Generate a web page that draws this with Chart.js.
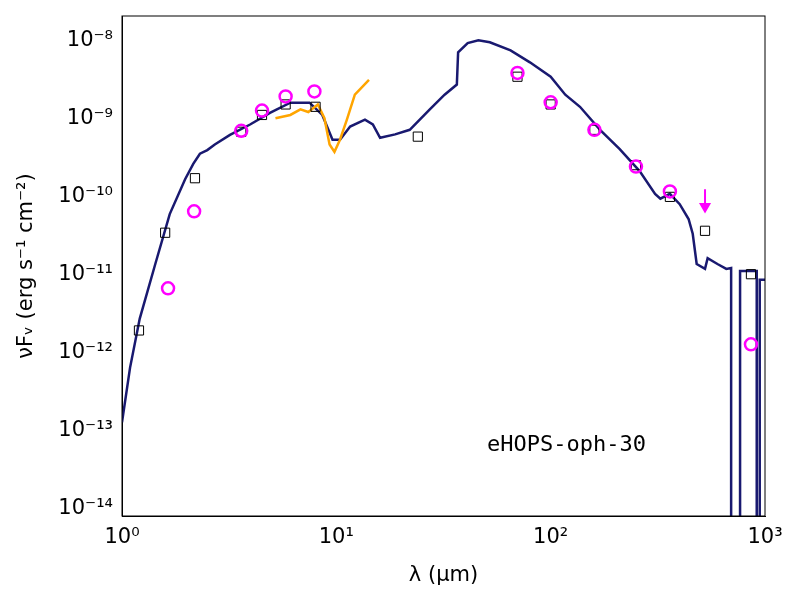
<!DOCTYPE html>
<html>
<head>
<meta charset="utf-8">
<script src="https://cdn.jsdelivr.net/npm/chart.js@4/dist/chart.umd.min.js"></script>
<style>
  body { margin: 0; background: #fff; }
</style>
</head>
<body>
<canvas id="sed" width="800" height="600"></canvas>
<script>
// --- DADOS ---
const squareX = [1.2, 1.59, 2.19, 3.6, 4.5, 5.8, 8.0, 24, 70, 100, 160, 250, 360, 525, 860];
const squareY = [1.9e-12, 3.4e-11, 1.7e-10, 6.7e-10, 1.1e-9, 1.5e-9, 1.4e-9, 5.8e-10, 3.4e-9, 1.5e-9, 7.1e-10, 2.5e-10, 9.8e-11, 3.6e-11, 1.0e-11];

const circleX = [1.64, 2.17, 3.6, 4.5, 5.8, 7.9, 70, 100, 160, 250, 360, 860];
const circleY = [6.6e-12, 6.4e-11, 6.9e-10, 1.25e-9, 1.9e-9, 2.2e-9, 3.8e-9, 1.6e-9, 7.1e-10, 2.4e-10, 1.15e-10, 1.26e-12];

const limitX = [525, 525];
const limitY = [1.23e-10, 7.4e-11];

const specX = [5.2, 6.1, 6.8, 7.4, 8.2, 8.8, 9.3, 9.8, 10.4, 11.2, 12.2, 14.2];
const specY = [1.0e-9, 1.1e-9, 1.3e-9, 1.2e-9, 1.5e-9, 1.0e-9, 4.6e-10, 3.7e-10, 5.3e-10, 9.6e-10, 2.0e-9, 3.1e-9];

const modelX = [1.0, 1.09, 1.21, 1.43, 1.67, 1.97, 2.15, 2.31, 2.5, 2.71, 3.19, 3.96, 4.9, 6.1, 7.5, 8.6, 9.6, 10.4, 11.6, 13.6, 14.8, 16, 18.8, 22, 27.3, 32, 36.5, 37, 41, 46, 52, 65, 80, 100, 117, 137, 170, 210, 260, 307, 325, 360, 400, 440, 460, 480, 525, 540, 600, 660, 695, 695, 765, 765, 875, 915, 915, 945, 945, 1000];
const modelY = [1.26e-13, 6.3e-13, 2.7e-12, 1.35e-11, 5.9e-11, 1.65e-10, 2.6e-10, 3.5e-10, 3.9e-10, 4.6e-10, 6.1e-10, 8.3e-10, 1.17e-9, 1.58e-9, 1.58e-9, 1.1e-9, 5.3e-10, 5.3e-10, 7.8e-10, 9.6e-10, 8.3e-10, 5.6e-10, 6.2e-10, 7.1e-10, 1.3e-9, 2.0e-9, 2.7e-9, 7.0e-9, 9.2e-9, 1.0e-8, 9.4e-9, 7.4e-9, 5.2e-9, 3.4e-9, 2.0e-9, 1.4e-9, 7.1e-10, 4.0e-10, 2.1e-10, 1.07e-10, 9.3e-11, 1.07e-10, 7.9e-11, 5.1e-11, 3.3e-11, 1.35e-11, 1.17e-11, 1.6e-11, 1.35e-11, 1.17e-11, 1.2e-11, 1e-16, 1e-16, 1.1e-11, 1.1e-11, 1.1e-11, 1e-16, 1e-16, 8.5e-12, 8.5e-12];

const xTicks = [1, 10, 100, 1000];
const yTicks = [1e-14, 1e-13, 1e-12, 1e-11, 1e-10, 1e-9, 1e-8];
const sourceName = 'eHOPS-oph-30';

// --- FUNÇÕES ---
const toPoints = (xs, ys) => xs.map((x, i) => ({ x, y: ys[i] }));
const sup = { '-': '⁻', '0': '⁰', '1': '¹', '2': '²', '3': '³', '4': '⁴', '5': '⁵', '6': '⁶', '7': '⁷', '8': '⁸', '9': '⁹' };
const powLabel = v => '10' + String(Math.round(Math.log10(v))).split('').map(c => sup[c]).join('');
const isDecade = (v, list) => list.some(t => Math.abs(v / t - 1) < 1e-6);

const framePlugin = {
    id: 'frame',
    afterDraw(chart) {
        const { ctx, chartArea: a } = chart;
        ctx.save();
        ctx.strokeStyle = '#000';
        ctx.lineWidth = 1;
        ctx.strokeRect(a.left, a.top, a.right - a.left, a.bottom - a.top);
        ctx.fillStyle = '#000';
        ctx.font = '22px "DejaVu Sans Mono"';
        ctx.textBaseline = 'middle';
        ctx.fillText(sourceName, 487, 445);
        ctx.restore();
    }
};

new Chart(document.getElementById('sed'), {
    type: 'scatter',
    data: {
        datasets: [
            { data: toPoints(modelX, modelY), showLine: true, borderColor: '#191970', borderWidth: 2.5, pointRadius: 0, order: 3 },
            { data: toPoints(specX, specY), showLine: true, borderColor: '#ffa500', borderWidth: 2.5, pointRadius: 0, order: 2 },
            { data: toPoints(squareX, squareY), pointStyle: 'rect', pointRadius: 6.5, borderColor: '#000', borderWidth: 1, backgroundColor: 'rgba(0,0,0,0)', order: 1 },
            { data: toPoints(circleX, circleY), pointStyle: 'circle', pointRadius: 6, borderColor: '#ff00ff', borderWidth: 2.5, backgroundColor: 'rgba(0,0,0,0)', order: 0 },
            { data: toPoints(limitX, limitY), showLine: true, borderColor: '#ff00ff', borderWidth: 2,
              pointStyle: 'triangle', pointRotation: 180, pointRadius: [0, 5], backgroundColor: '#ff00ff', order: 0 }
        ]
    },
    options: {
        responsive: false,
        animation: false,
        devicePixelRatio: 1,
        layout: { padding: { top: 16, right: 35, left: 14, bottom: 12 } },
        plugins: { legend: { display: false }, tooltip: { enabled: false } },
        scales: {
            x: {
                type: 'logarithmic', min: 1, max: 1000,
                grid: { display: false, drawTicks: true, tickLength: 6, tickColor: '#000' },
                border: { color: '#000' },
                ticks: { color: '#000', font: { size: 21, family: 'DejaVu Sans' }, maxRotation: 0, autoSkip: false,
                         callback: v => isDecade(v, xTicks) ? powLabel(v) : '' },
                title: { display: true, text: 'λ (μm)', color: '#000', font: { size: 21, family: 'DejaVu Sans' }, padding: { top: 2, bottom: 0 } },
                afterFit: s => { s.height = 72; }
            },
            y: {
                type: 'logarithmic', min: Math.pow(10, -14.1), max: Math.pow(10, -7.69),
                grid: { display: false, drawTicks: true, tickLength: 6, tickColor: '#000' },
                border: { color: '#000' },
                ticks: { color: '#000', font: { size: 21, family: 'DejaVu Sans' }, autoSkip: false,
                         callback: v => isDecade(v, yTicks) ? powLabel(v) : '' },
                title: { display: true, text: 'νFᵥ (erg s⁻¹ cm⁻²)', color: '#000', font: { size: 21, family: 'DejaVu Sans' }, padding: 0 },
                afterFit: s => { s.width = 108; }
            }
        }
    },
    plugins: [framePlugin]
});
</script>
</body>
</html>
